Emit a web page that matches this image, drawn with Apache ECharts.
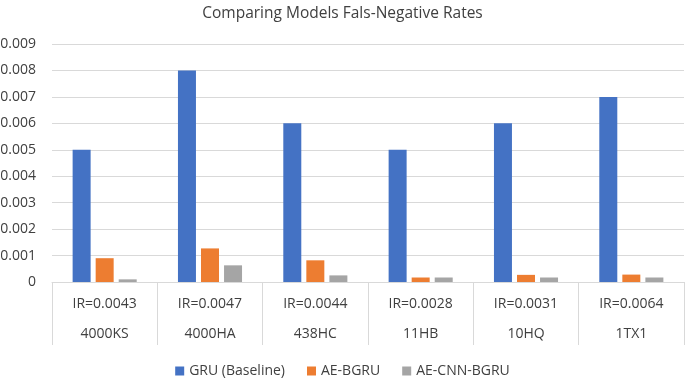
<!DOCTYPE html>
<html>
<head>
<meta charset="utf-8">
<script src="https://cdn.jsdelivr.net/npm/echarts@6/dist/echarts.min.js"></script>
<style>
  html, body { margin: 0; padding: 0; background: #fff; }
  #chart { width: 685px; height: 379px; }
</style>
</head>
<body>
<div id="chart"></div>
<script>
// data
const categories = ['4000KS', '4000HA', '438HC', '11HB', '10HQ', '1TX1']
const irLabels = ['IR=0.0043', 'IR=0.0047', 'IR=0.0044', 'IR=0.0028', 'IR=0.0031', 'IR=0.0064']
const seriesNames = ['GRU (Baseline)', 'AE-BGRU', 'AE-CNN-BGRU']
const gruValues = [0.005, 0.008, 0.006, 0.005, 0.006, 0.007]
const aeBgruValues = [0.0009, 0.00127, 0.00082, 0.00017, 0.00027, 0.00028]
const aeCnnBgruValues = [0.0001, 0.00063, 0.00025, 0.00017, 0.00017, 0.00017]
const yTicks = { min: 0, max: 0.009, interval: 0.001 }

const textColor = '#404040'
const lineColor = '#d9d9d9'
const fontFamily = '"Open Sans", "Noto Sans", sans-serif'

const chart = echarts.init(document.getElementById('chart'))

const barSeries = (name, data, color) => ({
  name,
  type: 'bar',
  data,
  barWidth: 18,
  barGap: '28%',
  itemStyle: { color },
  animation: false
})

chart.setOption({
  animation: false,
  textStyle: { fontFamily },
  title: {
    text: 'Comparing Models Fals-Negative Rates',
    left: 'center',
    top: 1,
    textStyle: { color: textColor, fontSize: 15.5, fontWeight: 'normal', fontFamily }
  },
  legend: {
    data: seriesNames,
    bottom: -4,
    left: 'center',
    itemWidth: 9,
    itemHeight: 9,
    itemGap: 22,
    icon: 'rect',
    textStyle: { color: textColor, fontSize: 14, fontFamily }
  },
  grid: {
    left: 52,
    right: 1,
    top: 44,
    bottom: 97,
    containLabel: false,
    outerBoundsMode: 'none'
  },
  xAxis: {
    type: 'category',
    data: categories,
    boundaryGap: true,
    axisLine: { lineStyle: { color: lineColor, width: 1 } },
    axisTick: { show: true, length: 63, lineStyle: { color: lineColor } },
    axisLabel: {
      margin: 7,
      interval: 0,
      formatter: (value, idx) => '{a|' + irLabels[idx] + '}\n{b|' + value + '}',
      rich: {
        a: { fontSize: 14, color: textColor, lineHeight: 30, fontFamily },
        b: { fontSize: 14, color: textColor, lineHeight: 30, fontFamily }
      }
    }
  },
  yAxis: {
    type: 'value',
    min: yTicks.min,
    max: yTicks.max,
    interval: yTicks.interval,
    axisLine: { show: false },
    axisTick: { show: false },
    splitLine: { lineStyle: { color: lineColor } },
    axisLabel: {
      color: textColor,
      fontSize: 14,
      margin: 16,
      fontFamily,
      formatter: (v) => (v === 0 ? '0' : v.toFixed(3))
    }
  },
  series: [
    barSeries(seriesNames[0], gruValues, '#4472c4'),
    barSeries(seriesNames[1], aeBgruValues, '#ed7d31'),
    barSeries(seriesNames[2], aeCnnBgruValues, '#a5a5a5')
  ]
})
</script>
</body>
</html>
